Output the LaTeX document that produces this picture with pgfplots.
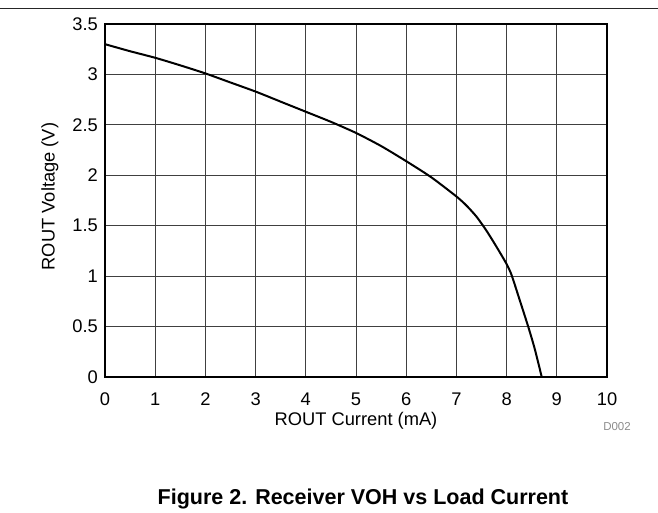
\documentclass[border=0pt]{standalone}
\usepackage{pgfplots}
\pgfplotsset{compat=1.18}
\usepackage{fontspec}
\setmainfont{Liberation Sans}
\begin{document}
\begin{tikzpicture}[x=1pt,y=1pt]
\useasboundingbox (0,0) rectangle (658,512);
\draw[line width=1pt, black!85] (0,503) -- (658,503);
\begin{axis}[
  at={(105pt,135pt)}, anchor=south west,
  scale only axis, width=502pt, height=353pt,
  xmin=0, xmax=10, ymin=0, ymax=3.5,
  xtick={0,1,...,10}, ytick={0,0.5,...,3.5},
  yticklabels={0,0.5,1,1.5,2,2.5,3,3.5},
  grid=major,
  major grid style={line width=0.9pt, black!75},
  axis line style={line width=2.4pt, black},
  tick style={draw=none},
  /pgf/number format/assume math mode=true,
  ticklabel style={font=\fontsize{18.3}{20}\selectfont, inner sep=0pt},
  xticklabel style={anchor=base, yshift=-28pt},
  yticklabel style={anchor=east, xshift=-7pt},
  xlabel={ROUT Current (mA)},
  ylabel={ROUT Voltage (V)},
  label style={font=\fontsize{18.3}{20}\selectfont, inner sep=0pt},
  xlabel style={at={(axis description cs:0.5,0)}, anchor=base, yshift=-48pt},
  ylabel style={at={(axis description cs:0,0.5)}, anchor=center, yshift=55pt, xshift=4pt},
]
\addplot[black, line width=2pt, smooth, tension=0.4] coordinates {
(0,3.30) (0.5,3.23) (1,3.165) (1.5,3.09) (2,3.01) (2.5,2.92) (3,2.83)
(3.5,2.73) (4,2.63) (4.5,2.53) (5,2.42) (5.5,2.29) (6,2.14) (6.5,1.98)
(7,1.79) (7.2,1.70) (7.4,1.59) (7.6,1.45) (7.8,1.29) (8,1.12) (8.1,1.01)
(8.25,0.78) (8.43,0.50) (8.56,0.28) (8.7,0.0)
};
\end{axis}
\node[text=black!45, font=\fontsize{11.5}{12}\selectfont] at (617,85) {D002};
\node[anchor=base, font=\bfseries\fontsize{21.5}{24}\selectfont] at (363,8) {Figure 2. Receiver VOH vs Load Current};
\end{tikzpicture}
\end{document}
